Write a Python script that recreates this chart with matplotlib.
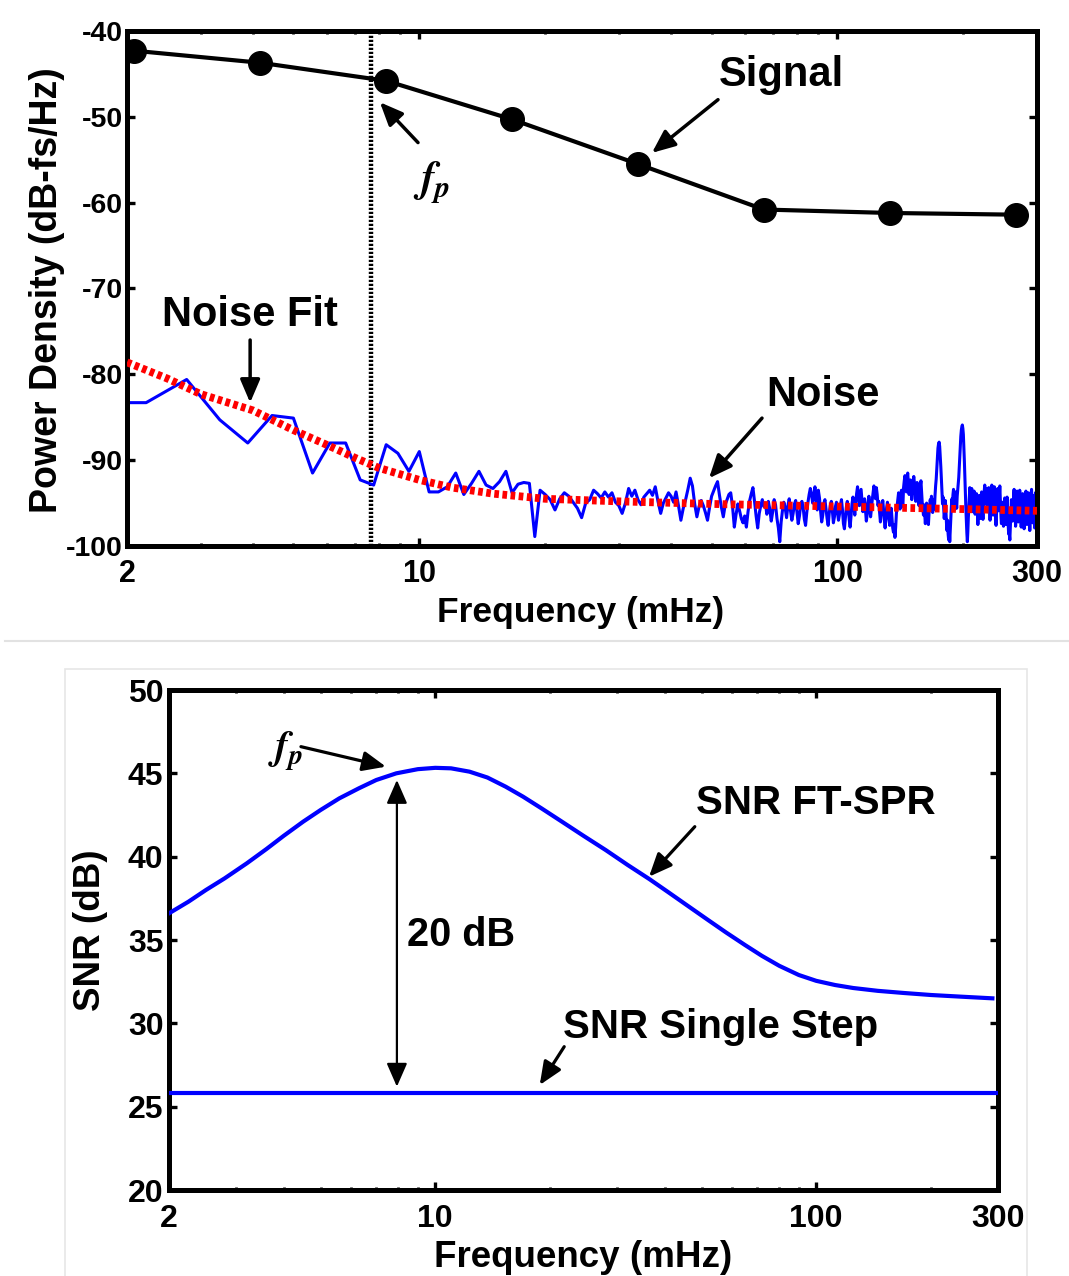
import numpy as np
import matplotlib
matplotlib.use('Agg')
import matplotlib.pyplot as plt
from matplotlib.lines import Line2D
from matplotlib.patches import Rectangle
from matplotlib.ticker import FixedLocator, NullFormatter

plt.rcParams['font.family'] = ['Liberation Sans', 'DejaVu Sans']
plt.rcParams['font.weight'] = 'bold'
plt.rcParams['mathtext.fontset'] = 'stix'
plt.rcParams['axes.unicode_minus'] = False

# ---------------- data: top panel ----------------
SIGNAL_F = [2.083, 4.167, 8.333, 16.67, 33.33, 66.67, 133.3, 266.7]
SIGNAL_DB = [-42.3, -43.7, -45.8, -50.3, -55.5, -60.8, -61.2, -61.4]

NOISE_DF = 1 / 1.8      # mHz per FFT bin
NOISE_K0 = 3            # first bin index
NOISE_DB = [
    # k = 3 .. 35
    -83.3, -83.3, -80.6, -85.3, -88.0, -84.8, -85.1, -91.5, -88.0, -88.0,
    -92.3, -92.9, -88.2, -89.2, -91.3, -89.0, -93.7, -93.7, -93.1, -91.5,
    -94.0, -92.7, -91.3, -92.9, -93.3, -92.5, -91.3, -93.8, -92.8, -92.6,
    -92.7, -98.9, -93.5,
    # k = 36 .. 60
    -94.0, -94.6, -95.8, -94.5, -93.8, -94.2, -94.9, -95.6, -96.7, -95.0,
    -94.6, -93.5, -93.9, -94.4, -93.7, -94.3, -93.8, -94.9, -95.3, -96.2,
    -95.0, -93.3, -94.2, -93.5, -94.6,
    # k = 61 .. 90
    -95.2, -94.3, -93.9, -93.5, -94.1, -93.1, -94.8, -96.2, -95.0, -94.4,
    -93.8, -94.2, -94.9, -93.7, -95.3, -97.0, -95.6, -94.6, -93.4, -92.1,
    -93.0, -95.1, -96.6, -95.4, -94.7, -95.3, -96.1, -97.0, -95.5, -94.2,
    # k = 91 .. 120
    -93.6, -93.0, -92.5, -94.1, -95.5, -96.6, -95.2, -94.6, -94.0, -93.8,
    -95.4, -97.8, -96.3, -95.1, -95.9, -96.8, -97.3, -96.5, -97.8, -96.0,
    -94.7, -93.9, -93.2, -94.8, -96.5, -97.9, -96.2, -95.3, -94.6, -95.4,
    # k = 121 .. 180
    -95.0, -96.3, -94.8, -95.7, -97.1, -96.0, -94.6, -95.2, -96.8, -97.9,
    -99.5, -97.2, -95.8, -94.9, -95.6, -96.7, -95.3, -94.5, -95.9, -97.0,
    -96.2, -95.1, -94.7, -96.0, -97.4, -96.5, -95.2, -94.8, -95.5, -96.9,
    -97.6, -96.1, -94.9, -94.0, -93.3, -93.9, -95.0, -94.2, -93.1, -94.6,
    -95.8, -93.5, -94.4, -95.9, -97.2, -96.4, -95.0, -94.6, -95.7, -96.8,
    -97.6, -96.2, -95.3, -94.8, -95.9, -97.3, -96.6, -95.4, -94.9, -96.1,
    # k = 181 .. 250
    -97.0, -96.3, -95.2, -94.6, -95.8, -97.4, -98.0, -96.7, -95.5, -94.8,
    -95.6, -96.9, -97.8, -96.5, -95.1, -94.3, -95.2, -96.4, -95.0, -93.9,
    -93.1, -94.0, -95.3, -94.4, -93.4, -94.7, -96.0, -95.1, -94.5, -95.8,
    -97.1, -96.3, -95.0, -94.2, -95.4, -96.6, -95.7, -94.6, -93.8, -93.0,
    -93.6, -94.5, -93.2, -94.0, -95.3, -94.8, -96.1, -97.2, -96.0, -95.2,
    -94.7, -95.9, -97.0, -97.9, -96.8, -95.5, -94.9, -95.8, -96.9, -97.6,
    -96.4, -95.6, -96.8, -97.9, -98.4, -97.5, -99.0, -97.8, -96.2, -95.3,
    # k = 251 .. 300
    -94.6, -93.8, -94.9, -95.7, -94.3, -93.5, -94.6, -95.4, -93.2, -92.4,
    -91.8, -92.6, -93.7, -92.1, -91.5, -92.8, -94.0, -93.1, -92.3, -93.5,
    -94.6, -93.4, -92.5, -91.9, -92.7, -93.9, -94.8, -93.6, -92.6, -93.3,
    -94.5, -95.3, -94.1, -93.0, -92.4, -93.6, -94.9, -95.7, -96.4, -95.2,
    -96.3, -97.4, -96.1, -95.0, -95.8, -96.9, -97.5, -96.2, -95.4, -94.6,
    # k = 301 .. 340
    -95.3, -94.2, -95.0, -96.1, -95.4, -94.6, -95.7, -94.1, -93.0, -92.2,
    -91.0, -89.6, -88.6, -88.1, -87.9, -88.4, -89.5, -90.8, -92.3, -93.8,
    -95.1, -94.3, -95.6, -96.8, -95.9, -94.7, -95.8, -97.3, -98.2, -97.0,
    -98.6, -99.3, -98.0, -99.5, -98.1, -96.6, -95.4, -94.5, -95.2, -94.0,
    # k = 341 .. 380
    -93.4, -94.6, -95.8, -94.9, -93.7, -94.5, -95.6, -94.2, -93.5, -92.8,
    -92.0, -90.9, -89.6, -88.3, -87.2, -86.5, -86.1, -85.9, -86.3, -87.0,
    -88.4, -90.1, -92.0, -93.9, -95.6, -97.2, -98.5, -99.5, -98.3, -96.7,
    -95.5, -94.3, -93.2, -94.4, -95.7, -94.1, -93.3, -94.8, -96.0, -95.1,
    # k = 381 .. 540
    -94.2, -93.6, -94.9, -96.3, -95.4, -94.5, -93.9, -95.2, -96.6, -97.5,
    -96.1, -94.8, -94.1, -95.5, -96.8, -95.7, -94.4, -93.7, -94.6, -95.9,
    -96.9, -95.6, -94.3, -93.5, -92.9, -93.8, -95.1, -94.2, -93.3, -94.7,
    -96.0, -95.2, -94.0, -93.2, -94.5, -95.8, -97.0, -95.9, -94.6, -93.4,
    -92.9, -93.9, -95.3, -96.4, -95.1, -94.0, -93.1, -94.4, -95.7, -96.9,
    -97.6, -96.3, -95.0, -94.1, -93.3, -94.6, -95.9, -95.0, -93.9, -93.0,
    -94.2, -95.5, -96.7, -97.4, -96.1, -94.9, -95.6, -96.8, -97.7, -96.5,
    -95.2, -94.4, -95.3, -96.6, -97.5, -96.3, -95.0, -94.3, -95.4, -96.9,
    -97.8, -98.6, -97.9, -98.8, -99.3, -98.1, -96.7, -95.5, -94.6, -95.1,
    -96.2, -97.1, -96.0, -94.8, -94.0, -93.4, -94.5, -95.8, -96.9, -97.7,
    -96.6, -95.3, -94.4, -93.6, -94.7, -96.0, -97.2, -96.3, -95.1, -94.2,
    -93.5, -94.3, -95.6, -96.8, -97.8, -96.6, -95.4, -94.6, -93.9, -94.8,
    -96.1, -97.3, -98.0, -96.9, -95.7, -94.8, -94.1, -93.6, -94.9, -96.3,
    -97.5, -96.4, -95.2, -94.5, -93.8, -94.7, -96.0, -97.1, -98.2, -97.0,
    -95.8, -94.9, -94.2, -93.4, -94.5, -95.9, -97.3, -96.2, -95.0, -94.1,
    -95.3, -96.7, -97.9, -96.8, -95.5, -94.6, -93.7, -94.4, -95.6, -94.0,
]

FIT_F = [2, 2.5, 3, 4, 5, 6, 7, 8, 10, 12, 15, 20, 30, 50, 100, 200, 300]
FIT_DB = [-78.6, -80.5, -82.3, -84.2, -86.5, -88.2, -89.7, -90.9, -92.3,
          -93.2, -93.9, -94.5, -94.8, -95.1, -95.4, -95.7, -95.9]

FP_TOP = 7.66

TOP_YTICKS = [-100, -90, -80, -70, -60, -50, -40]
X_TICKS = [2, 10, 100, 300]
X_TICKLABELS = ['2', '10', '100', '300']
X_MINOR = [3, 4, 5, 6, 7, 8, 9, 20, 30, 40, 50, 60, 70, 80, 90, 200]

# ---------------- data: bottom panel ----------------
SNR_F = [2.0, 2.25, 2.5, 2.8, 3.2, 3.6, 4.0, 4.5, 5.0, 5.6, 6.3, 7.0, 7.9,
         9.0, 10.0, 11.0, 12.3, 13.7, 15.3, 17.0, 19.0, 21.5, 24.5, 28.0,
         32.0, 36.5, 41.0, 46.0, 52.0, 58.0, 65.0, 72.0, 80.0, 90.0, 100.0,
         112.0, 125.0, 145.0, 170.0, 200.0, 240.0, 290.0]
SNR_FT = [36.6, 37.3, 38.0, 38.7, 39.6, 40.45, 41.25, 42.1, 42.8, 43.5, 44.1,
          44.6, 45.0, 45.25, 45.33, 45.3, 45.1, 44.75, 44.2, 43.6, 42.9, 42.1,
          41.25, 40.4, 39.5, 38.65, 37.85, 37.05, 36.2, 35.45, 34.7, 34.05,
          33.45, 32.9, 32.55, 32.3, 32.12, 31.95, 31.82, 31.7, 31.6, 31.5]
SNR_SINGLE = 25.85
FP_BOT = 7.93
GAIN_TOP = 44.6
GAIN_BOT = 26.2
BOT_YTICKS = [20, 25, 30, 35, 40, 45, 50]

# ---------------- figure ----------------
W, H = 1069, 1276
fig = plt.figure(figsize=(W / 100, H / 100), dpi=100)


def axes_px(l, t, r, b):
    return fig.add_axes([l / W, 1 - b / H, (r - l) / W, (b - t) / H])


def style_axes(ax, ytick_size, xtick_size, xpad, ypad):
    ax.set_xscale('log')
    for s in ax.spines.values():
        s.set_linewidth(3.6)
    ax.xaxis.set_major_locator(FixedLocator(X_TICKS))
    ax.set_xticklabels(X_TICKLABELS)
    ax.xaxis.set_minor_locator(FixedLocator(X_MINOR))
    ax.xaxis.set_minor_formatter(NullFormatter())
    ax.tick_params(which='both', direction='in', top=True, right=True)
    ax.tick_params(which='major', length=6, width=2.4)
    ax.tick_params(which='minor', length=2.5, width=2.0)
    ax.tick_params(axis='x', which='major', labelsize=xtick_size, pad=xpad)
    ax.tick_params(axis='y', which='major', labelsize=ytick_size, pad=ypad)
    for lab in ax.get_xticklabels() + ax.get_yticklabels():
        lab.set_fontweight('bold')


def arrow(ax, tail, head, lw=2.5, ms=20, hl=0.7, hw=0.3, style='-|>'):
    ax.annotate('', xy=head, xytext=tail,
                arrowprops=dict(arrowstyle=f'{style},head_length={hl},head_width={hw}',
                                lw=lw, color='black', shrinkA=0, shrinkB=0,
                                mutation_scale=ms))


# ---- top panel ----
ax1 = axes_px(127, 31, 1037, 546)
noise_f = NOISE_DF * np.arange(NOISE_K0, NOISE_K0 + len(NOISE_DB))
ax1.plot(noise_f, NOISE_DB, color='#0000ff', lw=2.2, zorder=2)
ax1.plot(FIT_F, FIT_DB, color='#ff0000', lw=5.6, linestyle=(0, (0.6, 0.45)),
         dash_capstyle='butt', zorder=3)
ax1.plot(SIGNAL_F, SIGNAL_DB, color='black', lw=3.0, marker='o', markersize=17,
         zorder=4)
ax1.axvline(FP_TOP, color='black', lw=3.2, linestyle=(0, (0.5, 0.4)), zorder=1)
ax1.set_xlim(2, 300)
ax1.set_ylim(-100, -40)
ax1.set_yticks(TOP_YTICKS)
style_axes(ax1, ytick_size=20.5, xtick_size=22, xpad=9, ypad=3)
ax1.set_ylabel('Power Density (dB-fs/Hz)', fontsize=27, fontweight='bold')
ax1.yaxis.set_label_coords(-0.068, 0.497)
ax1.set_xlabel('Frequency (mHz)', fontsize=25.5, fontweight='bold')
ax1.xaxis.set_label_coords(0.498, -0.097)

ax1.text(10.72, -57.6, r'$f_p$', fontsize=31, ha='center', va='center')
arrow(ax1, (9.93, -53.0), (8.05, -48.3))
ax1.text(73.3, -45.1, 'Signal', fontsize=30, fontweight='bold', ha='center', va='center')
arrow(ax1, (51.8, -48.0), (36.0, -54.2))
ax1.text(3.94, -73.1, 'Noise Fit', fontsize=30, fontweight='bold', ha='center', va='center')
arrow(ax1, (3.94, -76.0), (3.94, -83.3))
ax1.text(92.3, -82.4, 'Noise', fontsize=30, fontweight='bold', ha='center', va='center')
arrow(ax1, (66.0, -85.1), (49.3, -92.1))

# ---- bottom panel ----
ax2 = axes_px(169, 690, 998, 1190)
ax2.plot(SNR_F, SNR_FT, color='#0000ff', lw=3.0, zorder=3)
ax2.axhline(SNR_SINGLE, color='#0000ff', lw=3.0, zorder=3)
ax2.set_xlim(2, 300)
ax2.set_ylim(20, 50)
ax2.set_yticks(BOT_YTICKS)
style_axes(ax2, ytick_size=23, xtick_size=23, xpad=10, ypad=4)
ax2.set_ylabel('SNR (dB)', fontsize=26.5, fontweight='bold')
ax2.yaxis.set_label_coords(-0.074, 0.52)
ax2.set_xlabel('Frequency (mHz)', fontsize=26.5, fontweight='bold')
ax2.xaxis.set_label_coords(0.4994, -0.1)

ax2.text(4.03, 46.3, r'$f_p$', fontsize=29, ha='center', va='center')
arrow(ax2, (4.44, 46.6), (7.42, 45.4), lw=2.3)
arrow(ax2, (FP_BOT, GAIN_BOT), (FP_BOT, GAIN_TOP), lw=1.6, ms=18, hl=0.8, hw=0.35,
      style='<|-|>')
ax2.text(11.68, 35.3, '20 dB', fontsize=28.5, fontweight='bold', ha='center', va='center')
ax2.text(99.8, 43.2, 'SNR FT-SPR', fontsize=29, fontweight='bold', ha='center', va='center')
arrow(ax2, (48.0, 41.8), (36.4, 38.8), lw=2.3)
ax2.text(56.2, 29.8, 'SNR Single Step', fontsize=29, fontweight='bold', ha='center', va='center')
arrow(ax2, (21.8, 28.6), (18.8, 26.3), lw=2.3)

# ---- page decorations ----
fig.add_artist(Line2D([5 / W, 1.0], [1 - 641 / H, 1 - 641 / H],
                      transform=fig.transFigure, color='#e2e2e2', lw=1.5))
fig.add_artist(Rectangle((65 / W, -0.01), (1027 - 65) / W, (H - 669) / H + 0.01,
                         transform=fig.transFigure, fill=False,
                         edgecolor='#e6e6e6', lw=1.2))

fig.savefig('out.png', dpi=100, facecolor='white')
